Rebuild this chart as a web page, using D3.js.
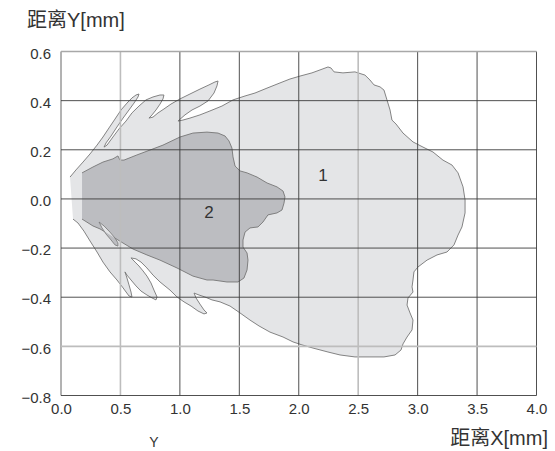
<!DOCTYPE html>
<html><head><meta charset="utf-8">
<script src="https://cdn.jsdelivr.net/npm/d3@7"></script>
<style>body{margin:0;background:#fff}</style>
</head><body><svg id="c" width="555" height="451"></svg>
<script>
// Region 1 boundary (x [mm], y [mm])
const region1 = [
[0.076,0.089],
[0.126,0.118],[0.185,0.150],[0.244,0.183],[0.303,0.219],[0.353,0.252],[0.404,0.289],[0.454,0.325],[0.505,0.362],[0.555,0.390],[0.597,0.411],[0.631,0.423],[0.656,0.427],
[0.648,0.415],[0.614,0.390],[0.572,0.362],[0.522,0.329],[0.471,0.293],[0.421,0.256],[0.379,0.228],[0.362,0.211],
[0.387,0.219],[0.437,0.252],[0.488,0.285],[0.547,0.317],[0.597,0.350],[0.656,0.378],[0.715,0.403],[0.774,0.415],[0.833,0.423],[0.866,0.423],
[0.858,0.407],[0.833,0.386],[0.799,0.362],[0.766,0.342],[0.740,0.329],
[0.774,0.333],[0.816,0.350],[0.866,0.366],[0.925,0.386],[1.001,0.407],[1.085,0.427],[1.169,0.447],[1.245,0.464],[1.295,0.476],[1.321,0.480],
[1.312,0.460],[1.287,0.431],[1.237,0.399],[1.169,0.378],[1.102,0.362],[1.043,0.342],[0.984,0.317],
[1.026,0.321],[1.085,0.329],[1.169,0.342],[1.253,0.358],[1.354,0.378],[1.447,0.403],[1.548,0.419],[1.632,0.431],[1.733,0.451],[1.842,0.472],[1.926,0.488],[2.011,0.500],[2.111,0.513],[2.179,0.525],[2.246,0.537],[2.271,0.533],[2.297,0.517],[2.372,0.513],[2.473,0.517],[2.557,0.504],[2.599,0.484],[2.633,0.464],[2.684,0.456],[2.717,0.443],[2.742,0.403],[2.768,0.362],[2.784,0.321],[2.818,0.305],[2.877,0.268],[2.961,0.232],[3.045,0.211],[3.129,0.191],[3.213,0.158],[3.289,0.138],[3.340,0.106],[3.382,0.049],[3.399,-0.004],[3.399,-0.057],[3.373,-0.114],[3.340,-0.147],[3.306,-0.187],[3.247,-0.216],[3.163,-0.228],[3.079,-0.249],[3.003,-0.277],[2.969,-0.297],[2.961,-0.330],[2.953,-0.358],[2.961,-0.379],[2.919,-0.403],[2.911,-0.432],[2.936,-0.464],[2.961,-0.493],[2.953,-0.533],[2.911,-0.562],[2.877,-0.590],[2.860,-0.615],[2.810,-0.635],[2.717,-0.643],[2.599,-0.643],[2.473,-0.643],[2.347,-0.635],[2.246,-0.623],[2.120,-0.607],[2.027,-0.594],[1.952,-0.582],[1.868,-0.562],[1.758,-0.542],[1.666,-0.517],[1.590,-0.493],[1.506,-0.464],[1.422,-0.436],[1.338,-0.419],[1.270,-0.411],[1.211,-0.399],[1.161,-0.391],[1.119,-0.383],
[1.136,-0.403],[1.169,-0.428],[1.203,-0.452],[1.228,-0.464],[1.203,-0.468],[1.152,-0.456],[1.094,-0.436],[1.035,-0.419],[0.976,-0.399],
[0.917,-0.371],[0.833,-0.338],[0.774,-0.310],[0.723,-0.281],[0.673,-0.257],[0.631,-0.244],[0.589,-0.240],
[0.623,-0.257],[0.656,-0.273],[0.690,-0.293],[0.723,-0.314],[0.757,-0.342],[0.782,-0.371],[0.808,-0.399],[0.799,-0.411],
[0.766,-0.403],[0.723,-0.391],[0.673,-0.375],[0.631,-0.354],[0.589,-0.330],[0.555,-0.310],[0.538,-0.297],
[0.555,-0.322],[0.572,-0.350],[0.589,-0.379],[0.597,-0.399],
[0.572,-0.395],[0.522,-0.362],[0.471,-0.330],[0.412,-0.297],[0.353,-0.257],[0.303,-0.216],[0.244,-0.171],[0.193,-0.131],[0.143,-0.098],[0.101,-0.082]
];
// Region 2 boundary
const region2 = [
[0.177,0.106],[0.269,0.130],[0.353,0.150],[0.437,0.163],[0.479,0.175],[0.496,0.158],[0.530,0.158],[0.639,0.179],[0.749,0.199],[0.858,0.219],[1.001,0.252],[1.110,0.268],[1.228,0.272],[1.321,0.268],[1.380,0.256],[1.413,0.236],[1.438,0.207],[1.447,0.171],[1.464,0.134],[1.506,0.114],[1.565,0.106],[1.649,0.089],[1.733,0.065],[1.817,0.049],[1.868,0.032],[1.884,0.008],[1.876,-0.017],[1.859,-0.045],[1.817,-0.057],[1.741,-0.065],[1.699,-0.094],[1.657,-0.114],[1.590,-0.118],[1.548,-0.135],[1.531,-0.167],[1.531,-0.196],[1.565,-0.220],[1.573,-0.249],[1.565,-0.289],[1.539,-0.322],[1.489,-0.338],[1.396,-0.338],[1.279,-0.330],[1.228,-0.330],[1.110,-0.314],[0.976,-0.281],[0.833,-0.249],[0.723,-0.228],[0.606,-0.204],[0.479,-0.167],[0.387,-0.139],[0.328,-0.122],[0.269,-0.110],[0.177,-0.082]
];
// Thin slit near the lower-left edge of region 2
const slit = [
[0.320,-0.094],[0.362,-0.110],[0.412,-0.135],[0.454,-0.159],[0.479,-0.179],[0.479,-0.192],[0.454,-0.187],[0.421,-0.167],[0.379,-0.143],[0.345,-0.118]
];
const xTicks = [0,0.5,1.0,1.5,2.0,2.5,3.0,3.5,4.0];
const yTicks = [-0.8,-0.6,-0.4,-0.2,0.0,0.2,0.4,0.6];
const regionLabels = [{t:"1",x:2.204,y:0.097},{t:"2",x:1.245,y:-0.053}];
const titleY = "距离Y[mm]";
const titleX = "距离X[mm]";

const svg = d3.select("#c");
const x = d3.scaleLinear().domain([0,4]).range([61,536.5]);
const y = d3.scaleLinear().domain([-0.8,0.6]).range([395.5,51.5]);
const line = d3.line().x(d=>x(d[0])).y(d=>y(d[1]));
const FONT = "'Liberation Sans', Arial, 'Noto Sans CJK SC', sans-serif";
const TXT = "#333";

const LIGHT="#e4e5e7", DARK="#bcbdc1", EDGE="#767676";

// region 1
svg.append("path").attr("d", line(region1)+"Z").attr("fill",LIGHT);
svg.append("path").attr("d", line(region1)).attr("fill","none").attr("stroke",EDGE).attr("stroke-width",0.9).attr("stroke-linejoin","round");
// region 2
svg.append("clipPath").attr("id","r2clip").append("path").attr("d", line(region2)+"Z");
svg.append("path").attr("d", line(region2)+"Z").attr("fill",DARK);
svg.append("path").attr("d", line(region2)).attr("fill","none").attr("stroke",EDGE).attr("stroke-width",0.9).attr("stroke-linejoin","round");
// slit: dark outside region 2, light inside it
svg.append("path").attr("d", line(slit)+"Z").attr("fill",DARK);
svg.append("path").attr("d", line(slit)+"Z").attr("fill",LIGHT).attr("clip-path","url(#r2clip)");
svg.append("path").attr("d", line(slit)+"Z").attr("fill","none").attr("stroke",EDGE).attr("stroke-width",0.8);

// grid
const lightX = [0.5,2.5], lightY = [-0.6,0.6];
xTicks.forEach(t=>{
  const light = lightX.includes(t);
  svg.append("line").attr("x1",x(t)).attr("x2",x(t)).attr("y1",y(0.6)).attr("y2",y(-0.8))
    .attr("stroke", light? "#bdbdbd" : (t===0? "#555" : "#3c3c3c"))
    .attr("stroke-width", light? 1.6 : 0.9);
});
yTicks.forEach(t=>{
  const light = lightY.includes(t);
  svg.append("line").attr("x1",x(0)).attr("x2",x(4)).attr("y1",y(t)).attr("y2",y(t))
    .attr("stroke", light? (t===0.6? "#a8a8a8":"#bdbdbd") : "#3c3c3c")
    .attr("stroke-width", light? 1.6 : 0.9);
});

// axes labels
const fmt = d3.format(".1f");
const ax = svg.append("g").attr("transform",`translate(0,${y(-0.8)})`)
  .call(d3.axisBottom(x).tickValues(xTicks).tickFormat(fmt).tickSize(0).tickPadding(8));
const ay = svg.append("g").attr("transform",`translate(${x(0)},0)`)
  .call(d3.axisLeft(y).tickValues(yTicks).tickFormat(fmt).tickSize(0).tickPadding(10));
[ax,ay].forEach(g=>{
  g.select(".domain").remove();
  g.selectAll("text").attr("font-family",FONT).attr("font-size",15).attr("fill",TXT);
});
ay.selectAll("text").attr("dy","0.45em");

// region labels
regionLabels.forEach(l=>{
  svg.append("text").attr("x",x(l.x)).attr("y",y(l.y)).attr("dy","0.36em")
    .attr("text-anchor","middle").attr("font-family",FONT).attr("font-size",17).attr("fill",TXT).text(l.t);
});

// titles
svg.append("text").attr("x",27).attr("y",27).attr("font-family",FONT).attr("font-size",20).attr("fill",TXT).text(titleY);
svg.append("text").attr("x",548).attr("y",445).attr("text-anchor","end").attr("font-family",FONT).attr("font-size",20).attr("fill",TXT).text(titleX);
svg.append("text").attr("x",154).attr("y",447).attr("text-anchor","middle").attr("font-family",FONT).attr("font-size",14).attr("fill",TXT).text("Y");
</script></body></html>
